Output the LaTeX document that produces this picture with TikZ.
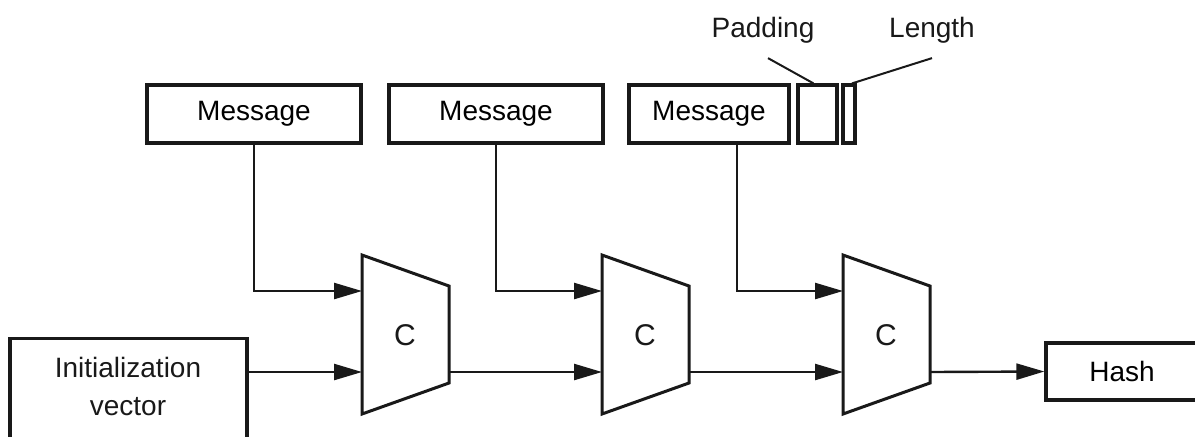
\documentclass[tikz,border=0pt]{standalone}
\usepackage{fontspec}
\setmainfont{Liberation Sans}
\usepackage{tikz}
\usetikzlibrary{arrows, arrows.meta, positioning, calc}
\definecolor{inkblack}{RGB}{25, 25, 25}

\begin{document}
\begin{tikzpicture}[x=0.5pt, y=-0.5pt,
    box/.style={draw=inkblack, line width=1.6pt, minimum height=29pt,
                inner sep=0pt, font=\fontsize{14}{19}\selectfont},
    flow/.style={inkblack, line width=1.2pt, -{Triangle[length=14pt,width=8pt]}},
    lbl/.style={inkblack, font=\fontsize{14}{19}\selectfont}]
    % Page frame
    \useasboundingbox (0,0) rectangle (1195,436);
    \clip (0,0) rectangle (1195,436);
    % Message blocks
    \node[box, minimum width=107pt] (msg1) at (254,114) {Message};
    \node[box, minimum width=107pt] (msg2) at (496,114) {Message};
    \node[box, minimum width=80pt] (msg3) at (709,114) {Message};
    \node[box, minimum width=19.5pt] (pad) at (817.5,114) {};
    \node[box, minimum width=6pt] (len) at (849,114) {};
    % Padding / length labels
    \node[lbl] (padlbl) at (763,30) {Padding};
    \node[lbl] (lenlbl) at (932,30) {Length};
    \draw[inkblack, line width=1pt] ([xshift=2.5pt,yshift=-4pt]padlbl.south) -- ([xshift=-2pt]pad.north);
    \draw[inkblack, line width=1pt] ([yshift=-4pt]lenlbl.south) -- ([xshift=1.5pt]len.north);
    % Compression stages
    \foreach \i/\x in {1/362, 2/602, 3/843} {
        \draw[inkblack, line width=1.5pt, line join=miter]
            (\x,255) -- ++(87,31) -- ++(0,97) -- (\x,414) -- cycle;
        \node[lbl, font=\fontsize{15}{19}\selectfont] (c\i) at (\x+43,335) {C};
        \coordinate (in\i a) at (\x,291);
        \coordinate (in\i b) at (\x,372);
        \coordinate (out\i) at (\x+87,372);
    }
    % Initialization vector
    \node[box, minimum width=118.5pt, minimum height=60pt, anchor=north] (init) at (128.5,337) {};
    \node[lbl, align=center] (initlbl) at (128,386) {Initialization\\vector};
    % Hash output
    \node[box, minimum width=76pt, minimum height=28.5pt] (hash) at (1122,371.5) {Hash};
    % Connectors
    \draw[flow] (msg1.south) |- (in1a);
    \draw[flow] (msg2.south) |- (in2a);
    \coordinate (tap3) at (737,143);
    \draw[flow] (tap3) |- (in3a);
    \draw[flow] (init.east |- in1b) -- (in1b);
    \draw[flow] (out1) -- (in2b);
    \draw[flow] (out2) -- (in3b);
    \draw[flow] (out3) -- (hash.west);
\end{tikzpicture}
\end{document}
